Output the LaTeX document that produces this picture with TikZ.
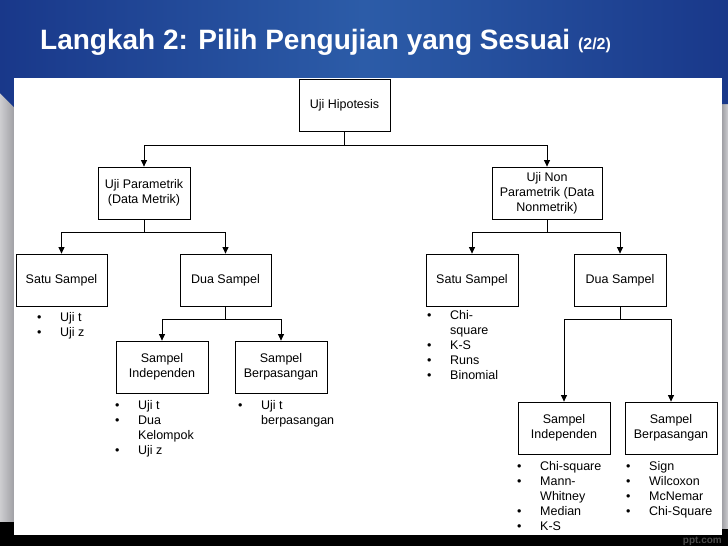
\documentclass[tikz,border=0pt]{standalone}
\usepackage{fontspec}
\setmainfont{Liberation Sans}
\usetikzlibrary{arrows.meta}

\definecolor{hdrdark}{RGB}{25,56,138}
\definecolor{hdrlight}{RGB}{44,92,168}
\definecolor{sisiterang}{RGB}{205,205,208}
\definecolor{sisigelap}{RGB}{160,160,165}

\newcommand{\butir}[1]{\makebox[23pt][l]{\textbullet}#1}
\newcommand{\lanjut}[1]{\hspace*{23pt}#1}

\begin{document}
\begin{tikzpicture}[x=1pt,y=-1pt,>={Triangle[length=6.5pt,width=6pt]},
  kotak/.style={draw,line width=0.8pt,minimum width=92pt,minimum height=52pt,inner sep=1pt,align=center,font=\fontsize{12.5}{15}\selectfont},
  daftar/.style={anchor=north west,inner sep=0pt,align=left,font=\fontsize{12.5}{15}\selectfont},
  cabang/.style={->,line width=0.8pt}]
\useasboundingbox (0,0) rectangle (728,546);
% slide background
\fill[black] (0,0) rectangle (728,546);
\shade[left color=sisiterang,right color=sisigelap] (0,93) rectangle (14,521);
\shade[left color=sisigelap,right color=sisiterang] (722,104) rectangle (728,528);
\shade[left color=hdrdark,right color=hdrdark,middle color=hdrlight] (0,0) -- (728,0) -- (728,104) -- (722,104) -- (722,78) -- (14,78) -- (14,107) -- (0,93) -- cycle;
\node[anchor=base east,inner sep=0pt,text=gray!60!black,font=\fontsize{10}{12}\selectfont\bfseries] (wm) at (722,543.5) {ppt.com};
\fill[white] (14,78) rectangle (722,535);
\node[anchor=base west,inner sep=0pt,text=white,font=\fontsize{28}{32}\selectfont\bfseries] (judul) at (40,49) {Langkah 2: Pilih Pengujian yang Sesuai {\fontsize{16}{18}\selectfont(2/2)}};
% boxes
\node[kotak,minimum width=91pt] (hip) at (344.5,105) {Uji Hipotesis};
\node[kotak] (par) at (144,193) {Uji Parametrik\\(Data Metrik)};
\node[kotak,minimum width=110pt] (npar) at (547,193) {Uji Non\\Parametrik (Data\\Nonmetrik)};
\node[kotak,minimum width=91pt] (s1) at (61.5,280) {Satu Sampel};
\node[kotak,minimum width=91pt] (d1) at (225.5,280) {Dua Sampel};
\node[kotak] (ind1) at (162,367) {Sampel\\Independen};
\node[kotak] (pas1) at (281,367) {Sampel\\Berpasangan};
\node[kotak] (s2) at (472,280) {Satu Sampel};
\node[kotak] (d2) at (620,280) {Dua Sampel};
\node[kotak] (ind2) at (564,428) {Sampel\\Independen};
\node[kotak] (pas2) at (671,428) {Sampel\\Berpasangan};
% connectors
\draw[cabang] (hip.south) -- ++(0,14) -| (par.north);
\draw[cabang] (hip.south) -- ++(0,14) -| (npar.north);
\draw[cabang] (par.south) -- ++(0,13) -| (s1.north);
\draw[cabang] (par.south) -- ++(0,13) -| (d1.north);
\draw[cabang] (d1.south) -- ++(0,13) -| (ind1.north);
\draw[cabang] (d1.south) -- ++(0,13) -| (pas1.north);
\draw[cabang] (npar.south) -- ++(0,13) -| (s2.north);
\draw[cabang] (npar.south) -- ++(0,13) -| (d2.north);
\draw[cabang] (d2.south) -- ++(0,13) -| (ind2.north);
\draw[cabang] (d2.south) -- ++(0,13) -| (pas2.north);
% test lists
\node[daftar] (l1) at (37,311) {\strut\butir{Uji t}\\\butir{Uji z}};
\node[daftar] (l2) at (427,309) {\strut\butir{Chi-}\\\lanjut{square}\\\butir{K-S}\\\butir{Runs}\\\butir{Binomial}};
\node[daftar] (l3) at (115,399) {\strut\butir{Uji t}\\\butir{Dua}\\\lanjut{Kelompok}\\\butir{Uji z}};
\node[daftar] (l4) at (238,399) {\strut\butir{Uji t}\\\lanjut{berpasangan}};
\node[daftar] (l5) at (517,460) {\strut\butir{Chi-square}\\\butir{Mann-}\\\lanjut{Whitney}\\\butir{Median}\\\butir{K-S}};
\node[daftar] (l6) at (626,460) {\strut\butir{Sign}\\\butir{Wilcoxon}\\\butir{McNemar}\\\butir{Chi-Square}};
\end{tikzpicture}
\end{document}
